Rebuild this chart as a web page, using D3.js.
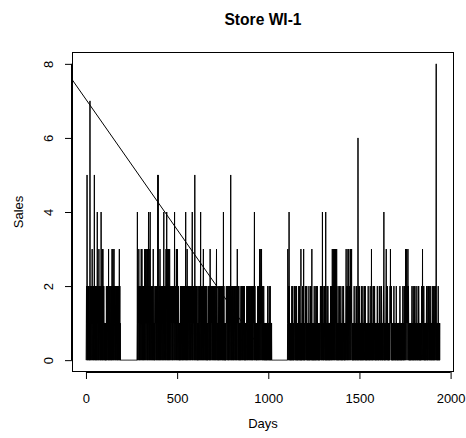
<!DOCTYPE html>
<html><head><meta charset="utf-8">
<script src="https://cdn.jsdelivr.net/npm/d3@7"></script>
<style>body{margin:0;background:#fff}svg{display:block}text{font-family:"Liberation Sans",Arial,sans-serif}</style>
</head><body>
<script>
// ---- data (daily sales) ----
const title = "Store WI-1";
const xLabel = "Days";
const yLabel = "Sales";
const xTicks = [0, 500, 1000, 1500, 2000];
const yTicks = [0, 2, 4, 6, 8];
const xDomain = [1, 1941];
const yDomain = [0, 8];

const seg1Start = 1;
const seg1 = [
"0121051201","2012102101","0712012102","1203120121","0210251021",
"2012010212","0412012021","3012102120","1042012130","2031021201",
"1101010101","0210120121","1203021012","0121012010","2130120312",
"0123012101","2101201210","1202101201","2130120100"];

const seg2Start = 281;
const seg2 = [
"1402101213","0120121021","2031203120","1210201212","0312031201",
"2130210312","0142012103","1402120121","0120121031","1010101201",
"2120121012","0215052101","2012031201","1201210212","0120124012",
"1021201230","1240132012","0310212031","2012101212","0121021012",
"1201240121","2012130123","0312012101","1010101201","1201210120",
"2101201212","0121014012","1020312012","0121201210","2101212012",
"1240120121","2012105120","1210212012","0101010121","2101201240",
"1201212012","0123012101","2101201212","0101010012","1201210120",
"3012101212","0121021201","2101201210","1201230121","1010101201",
"0121021012","1201210120","2014012101","0101010012","1201212010",
"2101201212","0125012101","2012101201","1201210121","0121021013",
"1201210120","1101010112","0121021012","1201210120","1010110101",
"1210210121","0121201201","2101210120","1201201212","0124012101",
"1101010110","1210120121","0312031201","2130121012","0101210101",
"1010101101","0101012101","1010210101","2010110100"];

const seg3Start = 1105;
const seg3 = [
"0132012104","1201010101","0101201012","0101010121","1012101010",
"2101010101","0121012010","1010301010","1012101013","0101010121",
"1012012101","0101010120","1010101210","2101301010","1010101201",
"0101012010","1201210101","0101010101","1210121012","0141010101",
"2101210120","4010101201","0121010101","1010101210","2101203101",
"2130121031","0121301210","3101010121","0101012101","1012101010",
"0101210121","0101010101","1230121012","0131012301","2101213012",
"1231010101","0101012101","1010101210","2101010612","0101012101",
"1010101201","0101210101","1012101201","0101010101","1012101010",
"0101210101","1301010101","2101210121","0101010101","1012101010",
"0101210121","0101012101","1010101214","0101010101","1230121012",
"0101010101","1012131210","2101010101","0101210101","1010101210",
"0101010101","1010101210","0101010101","1012101010","2101210131",
"0121310121","1301210101","0101010101","1012101010","2101010121",
"0101012101","1010101210","2101010101","0101012101","1301210121",
"0101010101","1012101010","2101210121","0101012101","1010101210",
"2101010121","0121028101","1010101210","1010101"];

// fitted trend line: intercept and slope (sales per day)
const trendIntercept = 7.04;
const trendSlope = -0.00703;
const trendEndDay = 950;

// ---- build series ----
const sales = [];
function addSeg(start, blocks){
  const s = blocks.join("");
  // zero-sales days between previous data and this segment
  while (sales.length + 1 < start) sales.push({day: sales.length + 1, v: 0});
  for (const ch of s) sales.push({day: sales.length + 1, v: +ch});
}
addSeg(seg1Start, seg1);
addSeg(seg2Start, seg2);
addSeg(seg3Start, seg3);

// ---- layout ----
const W = 466, H = 438;
const m = {left: 72, right: 12, top: 52, bottom: 66};
const pr = 0.04;
const xr = xDomain[1] - xDomain[0], yr = yDomain[1] - yDomain[0];
const x = d3.scaleLinear().domain([xDomain[0] - pr*xr, xDomain[1] + pr*xr]).range([m.left, W - m.right]);
const y = d3.scaleLinear().domain([yDomain[0] - pr*yr, yDomain[1] + pr*yr]).range([H - m.bottom, m.top]);

const svg = d3.select("body").append("svg").attr("width", W).attr("height", H);

// data line
svg.append("path")
  .datum(sales)
  .attr("fill", "none").attr("stroke", "#000").attr("stroke-width", 1)
  .attr("d", d3.line().x(d => x(d.day)).y(d => y(d.v)));

// trend line
const x0 = x.domain()[0];
svg.append("path")
  .datum([x0, trendEndDay])
  .attr("fill", "none").attr("stroke", "#000").attr("stroke-width", 1)
  .attr("d", d3.line().x(d => x(d)).y(d => y(trendIntercept + trendSlope * d)));

// box
svg.append("rect")
  .attr("x", m.left + 0.5).attr("y", m.top + 0.5)
  .attr("width", W - m.left - m.right - 1).attr("height", H - m.top - m.bottom - 1)
  .attr("fill", "none").attr("stroke", "#000").attr("stroke-width", 1);

// x axis
const gx = svg.append("g").attr("transform", `translate(0,${H - m.bottom})`)
  .call(d3.axisBottom(x).tickValues(xTicks).tickSize(7).tickPadding(15).tickFormat(d3.format("d")));
gx.select(".domain").attr("d", `M${x(xTicks[0])},0.5H${x(xTicks[xTicks.length-1])}`);
gx.selectAll("text").attr("font-size", 13).attr("font-family", "Liberation Sans, Arial, sans-serif");

// y axis
const gy = svg.append("g").attr("transform", `translate(${m.left},0)`)
  .call(d3.axisLeft(y).tickValues(yTicks).tickSize(7).tickFormat(d3.format("d")));
gy.select(".domain").attr("d", `M-0.5,${y(yTicks[0])}V${y(yTicks[yTicks.length-1])}`);
gy.selectAll("text")
  .attr("font-size", 13).attr("font-family", "Liberation Sans, Arial, sans-serif")
  .attr("text-anchor", "middle").attr("dy", null).attr("x", null)
  .attr("transform", d => `translate(-19,0) rotate(-90)`)
  .attr("y", 0);

// titles
svg.append("text").attr("x", (m.left + W - m.right)/2).attr("y", 25)
  .attr("text-anchor", "middle").attr("font-weight", "bold").attr("font-size", 15.6).text(title);
svg.append("text").attr("x", (m.left + W - m.right)/2).attr("y", 428)
  .attr("text-anchor", "middle").attr("font-size", 13).text(xLabel);
svg.append("text").attr("transform", `translate(23,${(m.top + H - m.bottom)/2}) rotate(-90)`)
  .attr("text-anchor", "middle").attr("font-size", 13).text(yLabel);
</script>
</body></html>
